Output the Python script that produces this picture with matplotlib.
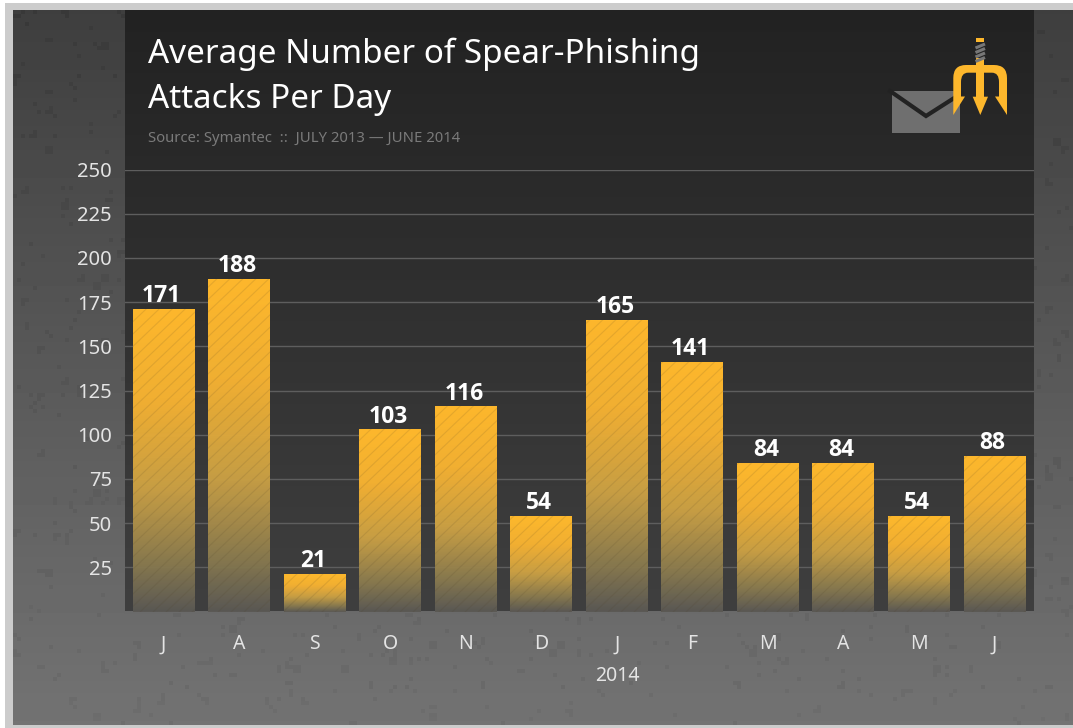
import numpy as np
import matplotlib
matplotlib.use('Agg')
from matplotlib import pyplot as plt
from matplotlib.collections import LineCollection
from matplotlib.colors import LinearSegmentedColormap
from matplotlib.patches import Polygon, Rectangle, PathPatch
from matplotlib.path import Path
from matplotlib.transforms import IdentityTransform

months = ['J', 'A', 'S', 'O', 'N', 'D', 'J', 'F', 'M', 'A', 'M', 'J']
attacks = [171, 188, 21, 103, 116, 54, 165, 141, 84, 84, 54, 88]
yticks = [25, 50, 75, 100, 125, 150, 175, 200, 225, 250]

W, H = 1073, 728
plt.rcParams['font.family'] = ['Noto Sans', 'DejaVu Sans']
fig = plt.figure(figsize=(W/100, H/100), dpi=100, facecolor='white')

# full figure axes in pixels, for backdrop and logo
bg = fig.add_axes([0, 0, 1, 1], zorder=0)
bg.axis('off')

bg.add_patch(Rectangle((5, 3), W, H, fc='#cccccc', ec='none'))

# grey backdrop, with blocky speckle so it looks worn
rng = np.random.RandomState(4)
gy = np.linspace(0, 1, 179)[:, None]
shade = np.repeat(0.245 + 0.205*gy, 265, axis=1)
coarse = np.kron(rng.rand(90, 133), np.ones((2, 2)))[:179, :265]
speck = (coarse > 0.95) * (rng.rand(179, 265) > 0.4)
speck = speck | (rng.rand(179, 265) > 0.985)
shade = shade - 0.022*speck
bg.imshow(shade, extent=(13, W, 725, 10), cmap='gray', vmin=0, vmax=1,
          aspect='auto', interpolation='nearest', zorder=1)

# dark panel
panel = LinearSegmentedColormap.from_list('panel', ['#222222', '#3f3f3f'])
bg.imshow(np.linspace(0, 1, 256)[:, None], extent=(125, 1034, 611, 10), cmap=panel,
          aspect='auto', zorder=2)
bg.set_xlim(0, W)
bg.set_ylim(H, 0)

# chart axes, lined up with the panel
x0, x1, ytop, ybase = 125, 1034, 169.5, 611.5
ax = fig.add_axes([x0/W, 1-ybase/H, (x1-x0)/W, (ybase-ytop)/H], zorder=1)
ax.patch.set_alpha(0)
for s in ['top', 'right', 'left']:
    ax.spines[s].set_visible(False)
ax.spines['bottom'].set_color('#6a6a6a')
ax.set_yticks(yticks)
ax.set_yticklabels([str(v) for v in yticks], fontsize=14.5, color='#e4e4e4')
ax.set_xticks(range(len(months)))
ax.set_xticklabels(months, fontsize=14, color='#e4e4e4')
ax.tick_params(axis='both', length=0)
ax.tick_params(axis='y', pad=9.5)
ax.tick_params(axis='x', pad=16.5)
ax.grid(axis='y', color='#5e5e5e', linewidth=1)
ax.set_axisbelow(True)
ax.set_xlabel('2014', fontsize=14, color='#e4e4e4', labelpad=8.5, x=(617-x0)/(x1-x0))

# bars fade out towards the baseline
fade = LinearSegmentedColormap.from_list('fade', [(0, '#ffb92c'), (0.3, '#f4b132'), (0.6, '#caa045'),
                                                  (0.85, '#87794f'), (1, '#5b5955')])
grad = fade(np.linspace(0, 1, 256))[:, None, :]
grad[..., 3] = np.linspace(1, 0.96, 256)[:, None]

bars = ax.bar(range(len(attacks)), attacks, width=0.82, color='none', edgecolor='none', zorder=3)
ax.set_xlim(-0.51, 11.522)
ax.set_ylim(0, 250)
for b, v in zip(bars, attacks):
    ax.imshow(grad, extent=(b.get_x(), b.get_x()+b.get_width(), 0, v), aspect='auto', zorder=3)
    ax.text(b.get_x()+b.get_width()/2-0.025, v+0.5, str(v), ha='center', va='bottom',
            fontsize=16.5, fontweight='bold', family=['Open Sans', 'DejaVu Sans'], color='white', zorder=5)
    # diagonal lines, pixel spaced, cut off at the bar
    segs = [[(px, 0), (px+H*1.05, H)] for px in np.arange(-H*1.1, W, 13)]
    lc = LineCollection(segs, colors=[(0.3, 0.25, 0.15, 0.13)], linewidths=0.8,
                        transform=IdentityTransform(), zorder=4)
    ax.add_collection(lc, autolim=False)
    lc.set_clip_path(Rectangle((b.get_x(), 0), b.get_width(), v, transform=ax.transData))
ax.set_xlim(-0.51, 11.522)
ax.set_ylim(0, 250)

bg.text(148, 54, 'Average Number of Spear-Phishing', fontsize=23.9, color='white', va='center', zorder=5)
bg.text(148, 99, 'Attacks Per Day', fontsize=23.9, color='white', va='center', zorder=5)
bg.text(148, 138.5, 'Source: Symantec  ::  JULY 2013 \u2014 JUNE 2014', fontsize=10.7, color='#7a7a7a',
        va='center', zorder=5)

# envelope + trident logo
bg.add_patch(Rectangle((892, 90.5), 68, 42.5, fc='#6f6f6f', ec='none', zorder=5))
bg.plot([890, 926, 962], [91, 116, 93], color='#222222', lw=3, zorder=6, solid_joinstyle='miter')
gold = '#fdb72c'
bg.add_patch(Rectangle((976.3, 38.3), 7.7, 60, fc=gold, ec='none', zorder=7))
bg.add_patch(Polygon([(972.7, 96.7), (988, 96.7), (980.3, 115)], fc=gold, ec='none', zorder=7))
head_verts = [(953.3, 115), (953.3, 78), (953.3, 65), (966, 65), (994, 65), (1007, 65), (1007, 78),
              (1007, 115), (995, 96.5), (999, 96.5), (999, 82), (999, 72.7), (992, 72.7),
              (968, 72.7), (961, 72.7), (961, 82), (961, 96.5), (965, 96.5), (953.3, 115)]
head_codes = [Path.MOVETO, Path.LINETO, Path.CURVE3, Path.CURVE3, Path.LINETO, Path.CURVE3, Path.CURVE3,
              Path.LINETO, Path.LINETO, Path.LINETO, Path.LINETO, Path.CURVE3, Path.CURVE3,
              Path.LINETO, Path.CURVE3, Path.CURVE3, Path.LINETO, Path.LINETO, Path.CLOSEPOLY]
bg.add_patch(PathPatch(Path(head_verts, head_codes), fc=gold, ec='none', zorder=7))
bg.add_patch(Rectangle((975, 42), 10.5, 20, fc='#242424', ec='none', zorder=8))
bg.add_patch(Rectangle((976.3, 58), 7.7, 8, fc=gold, ec='none', zorder=8))
for yy in [46, 50.5, 55, 59.5]:
    bg.plot([975.5, 985], [yy+2, yy-2], color='#777777', lw=2.2, zorder=9, solid_capstyle='butt')

fig.savefig('out.png', dpi=100, facecolor='white')
